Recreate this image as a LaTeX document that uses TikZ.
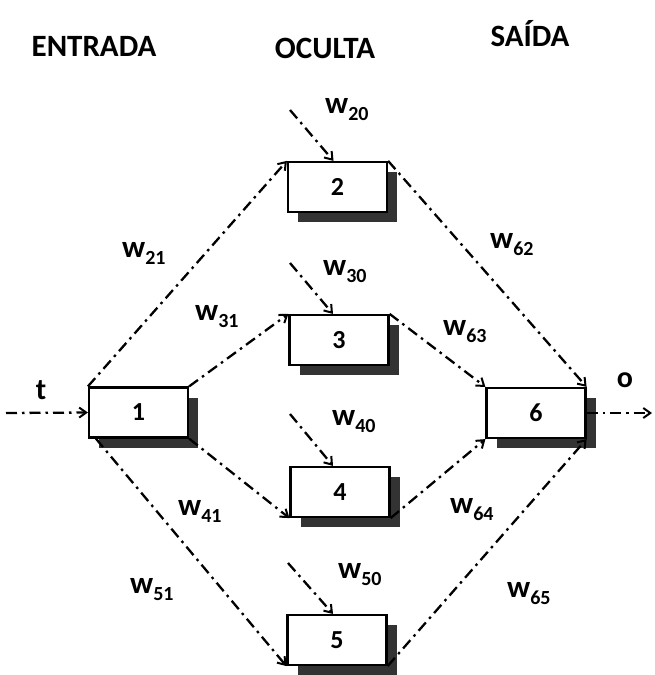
\documentclass[tikz,border=0pt]{standalone}
\usepackage{fontspec}
\setmainfont{Carlito}
\usetikzlibrary{arrows.meta,shadows}
\newcommand{\wl}[1]{{\fontsize{31}{31}\selectfont\bfseries w}\raisebox{-7pt}{\fontsize{20}{20}\selectfont\bfseries #1}}
\tikzset{
  neuron/.style={draw,line width=2.2pt,fill=white,minimum width=99pt,minimum height=50pt,inner sep=0pt,
    font=\fontsize{26}{26}\selectfont\bfseries,
    drop shadow={shadow xshift=10pt,shadow yshift=-10pt,fill=black!80,opacity=1}},
  conn/.style={line width=2.3pt,dash pattern=on 11pt off 5pt on 2.5pt off 5pt,
    -{Straight Barb[length=7pt,width=10pt,line width=2pt]}},
  wlab/.style={anchor=base west,inner sep=0pt},
  head/.style={anchor=base,inner sep=0pt,font=\fontsize{31}{31}\selectfont\bfseries},
}
\begin{document}
\begin{tikzpicture}[x=1pt,y=-1pt]
\useasboundingbox (0,0) rectangle (654,675);
% headers
\node[head] (hin) at (94,56) {ENTRADA};
\node[head] (hhid) at (325,58) {OCULTA};
\node[head] (hout) at (530,46) {SAÍDA};
% neurons
\node[neuron] (n1) at (138.5,412.5) {1};
\node[neuron] (n2) at (337.5,187) {2};
\node[neuron] (n3) at (339,340) {3};
\node[neuron] (n4) at (340,492) {4};
\node[neuron] (n5) at (337,640) {5};
\node[neuron] (n6) at (536,413) {6};
% free ends
\coordinate (tin) at (6,413);
\coordinate (oout) at (652,413);
\coordinate (b2) at (290,110);
\coordinate (b3) at (290,263);
\coordinate (b4) at (290,414);
\coordinate (b5) at (288,563);
% connectors
\draw[conn] (tin) -- (n1.west);
\draw[conn] (n1.north west) -- (n2.north west);
\draw[conn] (n1.north east) -- (n3.north west);
\draw[conn] (n1.south east) -- (n4.south west);
\draw[conn] ([xshift=8pt]n1.south west) -- (n5.south west);
\draw[conn] (b2) -- ([xshift=-4pt]n2.north);
\draw[conn] (b3) -- ([xshift=-6pt]n3.north);
\draw[conn] (b4) -- ([xshift=-7pt]n4.north);
\draw[conn] (b5) -- ([xshift=-4pt]n5.north);
\draw[conn] (n2.north east) -- (n6.north east);
\draw[conn] (n3.north east) -- (n6.north west);
\draw[conn] (n4.south east) -- (n6.south west);
\draw[conn] (n5.south east) -- (n6.south east);
\draw[conn] (n6.east) -- (oout);
% labels
\node[inner sep=0pt,font=\fontsize{30}{30}\selectfont\bfseries] (lt) at (41,390) {t};
\node[inner sep=0pt,font=\fontsize{30}{30}\selectfont\bfseries] (lo) at (625,380) {o};
\node[wlab] (l20) at (325,113) {\wl{20}};
\node[wlab] (l21) at (122,257) {\wl{21}};
\node[wlab] (l30) at (323,275) {\wl{30}};
\node[wlab] (l31) at (195,320) {\wl{31}};
\node[wlab] (l40) at (332,425) {\wl{40}};
\node[wlab] (l41) at (178,515) {\wl{41}};
\node[wlab] (l50) at (338,578) {\wl{50}};
\node[wlab] (l51) at (130,593) {\wl{51}};
\node[wlab] (l62) at (490,248) {\wl{62}};
\node[wlab] (l63) at (443,335) {\wl{63}};
\node[wlab] (l64) at (450,513) {\wl{64}};
\node[wlab] (l65) at (507,597) {\wl{65}};
\end{tikzpicture}
\end{document}
